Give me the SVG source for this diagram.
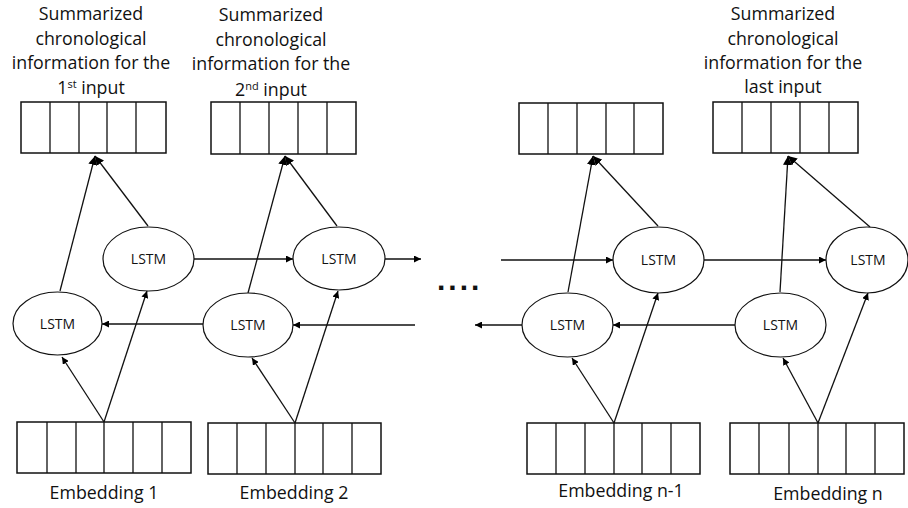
<svg xmlns="http://www.w3.org/2000/svg" width="908" height="508" viewBox="0 0 908 508">
<defs>
<marker id="ah" viewBox="0 0 10 10" refX="10" refY="5" markerWidth="7" markerHeight="7" markerUnits="userSpaceOnUse" orient="auto">
<path d="M0,0 L10,5 L0,10 z" fill="#000"/>
</marker>
<marker id="ah2" viewBox="0 0 10 10" refX="10" refY="5" markerWidth="9" markerHeight="9" markerUnits="userSpaceOnUse" orient="auto">
<path d="M0,0 L10,5 L0,10 z" fill="#000"/>
</marker>
</defs>
<style>
.box{fill:#fff;stroke:#111;stroke-width:1.5}
.div{stroke:#111;stroke-width:1.3}
.ell{fill:#fff;stroke:#111;stroke-width:1.2}
.lbl{font-family:"Open Sans","Liberation Sans",sans-serif;font-size:17.8px;fill:#111;text-anchor:middle}
.lstm{font-family:"Open Sans","Liberation Sans",sans-serif;font-size:14px;fill:#111;text-anchor:middle}
.c{stroke:#111;stroke-width:1.3;fill:none}
.a{marker-end:url(#ah)}
.dots{font-family:"Liberation Sans",sans-serif;font-size:30px;font-weight:bold;fill:#111;letter-spacing:3px}
</style>
<rect width="908" height="508" fill="#fff"/>

<g id="connectors">
<!-- forward -->
<line class="c a" x1="194" y1="259" x2="293" y2="259"/>
<line class="c a" x1="385" y1="259" x2="421" y2="259"/>
<line class="c a" x1="501" y1="260" x2="613" y2="260"/>
<line class="c a" x1="704" y1="260" x2="826" y2="260"/>
<!-- backward -->
<line class="c a" x1="415" y1="325" x2="293" y2="325"/>
<line class="c a" x1="203" y1="324" x2="102" y2="324"/>
<line class="c a" x1="735" y1="325" x2="613" y2="325"/>
<line class="c a" x1="522" y1="325" x2="475" y2="325"/>
<!-- embedding inputs -->
<line class="c a" x1="104" y1="422" x2="62" y2="357"/>
<line class="c a" x1="104" y1="422" x2="147" y2="291"/>
<line class="c a" x1="295" y1="423" x2="252" y2="358"/>
<line class="c a" x1="295" y1="423" x2="338" y2="291"/>
<line class="c a" x1="614" y1="423" x2="572" y2="358"/>
<line class="c a" x1="614" y1="423" x2="658" y2="293"/>
<line class="c a" x1="818" y1="423" x2="783" y2="358"/>
<line class="c a" x1="818" y1="423" x2="868" y2="293"/>
<!-- outputs -->
<line class="c" x1="60" y1="291" x2="95" y2="156" marker-end="url(#ah2)"/>
<line class="c" x1="148" y1="226" x2="95" y2="156" marker-end="url(#ah2)"/>
<line class="c" x1="248" y1="293" x2="285" y2="156" marker-end="url(#ah2)"/>
<line class="c" x1="337" y1="226" x2="285" y2="156" marker-end="url(#ah2)"/>
<line class="c" x1="568" y1="292" x2="593" y2="156" marker-end="url(#ah2)"/>
<line class="c" x1="658" y1="226" x2="593" y2="156" marker-end="url(#ah2)"/>
<line class="c" x1="780" y1="292" x2="788" y2="156" marker-end="url(#ah2)"/>
<line class="c" x1="870" y1="227" x2="788" y2="156" marker-end="url(#ah2)"/>
</g>

<g id="out1">
<text class="lbl" x="91" y="20">Summarized</text>
<text class="lbl" x="91" y="45">chronological</text>
<text class="lbl" x="91" y="69">information for the</text>
<text class="lbl" x="91" y="94">1<tspan font-size="11" dy="-6">st</tspan><tspan dy="6"> input</tspan></text>
<rect class="box" x="21" y="102" width="145" height="51"/>
<path class="div" d="M50,102V153M79,102V153M107,102V153M136,102V153"/>
</g>
<g id="out2">
<text class="lbl" x="271" y="21">Summarized</text>
<text class="lbl" x="271" y="46">chronological</text>
<text class="lbl" x="271" y="70">information for the</text>
<text class="lbl" x="271" y="96">2<tspan font-size="11" dy="-6">nd</tspan><tspan dy="6">  input</tspan></text>
<rect class="box" x="211" y="102" width="145" height="52"/>
<path class="div" d="M240,102V154M269,102V154M298,102V154M327,102V154"/>
</g>
<g id="out3">
<rect class="box" x="519" y="103" width="144" height="51"/>
<path class="div" d="M548,103V154M577,103V154M606,103V154M634,103V154"/>
</g>
<g id="out4">
<text class="lbl" x="783" y="20">Summarized</text>
<text class="lbl" x="783" y="45">chronological</text>
<text class="lbl" x="783" y="69">information for the</text>
<text class="lbl" x="783" y="93">last input</text>
<rect class="box" x="713" y="102" width="145" height="51"/>
<path class="div" d="M742,102V153M771,102V153M800,102V153M829,102V153"/>
</g>

<g id="lstm1f"><ellipse class="ell" cx="148.5" cy="259" rx="45.5" ry="32"/><text class="lstm" x="148.5" y="264">LSTM</text></g>
<g id="lstm1b"><ellipse class="ell" cx="57.5" cy="323.5" rx="44.5" ry="31.5"/><text class="lstm" x="57.5" y="328.5">LSTM</text></g>
<g id="lstm2f"><ellipse class="ell" cx="339" cy="258.5" rx="46" ry="31.5"/><text class="lstm" x="339" y="263.5">LSTM</text></g>
<g id="lstm2b"><ellipse class="ell" cx="248" cy="325" rx="45" ry="32"/><text class="lstm" x="248" y="330">LSTM</text></g>
<g id="lstmn1f"><ellipse class="ell" cx="658.5" cy="260" rx="45.5" ry="33"/><text class="lstm" x="658.5" y="265">LSTM</text></g>
<g id="lstmn1b"><ellipse class="ell" cx="567.5" cy="325" rx="45.5" ry="32"/><text class="lstm" x="567.5" y="330">LSTM</text></g>
<g id="lstmnf"><ellipse class="ell" cx="867" cy="260" rx="41" ry="33"/><text class="lstm" x="868" y="265">LSTM</text></g>
<g id="lstmnb"><ellipse class="ell" cx="780.5" cy="325" rx="45.5" ry="32"/><text class="lstm" x="780.5" y="330">LSTM</text></g>

<g id="dots"><text class="dots" x="437" y="290">....</text></g>

<g id="emb1">
<rect class="box" x="17" y="422" width="174" height="51"/>
<path class="div" d="M47,422V473M76,422V473M104,422V473M133,422V473M162,422V473"/>
<text class="lbl" x="104" y="499">Embedding 1</text>
</g>
<g id="emb2">
<rect class="box" x="208" y="423" width="173" height="51"/>
<path class="div" d="M237,423V474M266,423V474M295,423V474M323,423V474M352,423V474"/>
<text class="lbl" x="294" y="499">Embedding 2</text>
</g>
<g id="embn1">
<rect class="box" x="527" y="423" width="173" height="51"/>
<path class="div" d="M556,423V474M585,423V474M614,423V474M642,423V474M671,423V474"/>
<text class="lbl" x="621" y="497">Embedding n-1</text>
</g>
<g id="embn">
<rect class="box" x="730" y="423" width="174" height="51"/>
<path class="div" d="M759,423V474M789,423V474M818,423V474M846,423V474M875,423V474"/>
<text class="lbl" x="828" y="500">Embedding n</text>
</g>
</svg>
